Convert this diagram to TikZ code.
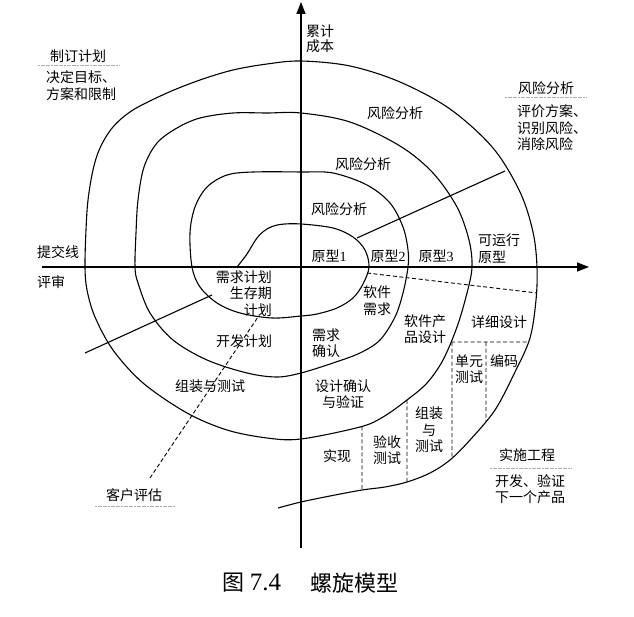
\documentclass[tikz,border=0pt]{standalone}
\usepackage{fontspec}
\setmainfont{Noto Sans CJK SC}
\newfontfamily\lat{Liberation Serif}
\usetikzlibrary{arrows.meta,intersections}
\newcommand\lblfont{\fontsize{14}{16.5}\selectfont}
\begin{document}
\begin{tikzpicture}[x=1pt,y=-1pt,
  curve/.style={line width=1.1pt, line join=round},
  axisline/.style={line width=1.5pt, -{Triangle[length=12pt,width=9pt]}},
  dashline/.style={line width=0.9pt, dash pattern=on 4pt off 2.5pt},
  sepline/.style={gray!65, line width=0.8pt, dash pattern=on 2pt off 0.6pt},
  lbl/.style={font=\lblfont, inner sep=0pt, align=center},
  lbll/.style={font=\lblfont, inner sep=0pt, align=left},
  lblr/.style={font=\lblfont, inner sep=0pt, align=right}]
\useasboundingbox (0,0) rectangle (634,617);

% axes
\coordinate (xa) at (42,267);
\coordinate (xb) at (589,267);
\coordinate (ya) at (301,548);
\coordinate (yb) at (301,2);
\draw[axisline] (xa) -- (xb);
\draw[axisline] (ya) -- (yb);

% spiral
\draw[curve, name path=spiral] plot[smooth, tension=0.55] coordinates {
 (237,267) (247,254) (257,238) (267,229) (280,224.5) (301,224)
 (333,228) (353,237) (365,250) (369,267)
 (363,284) (353,298) (337,308) (317,314) (301,316)
 (272,318) (240,313) (217,303) (200,287) (192,267)
 (190,233) (195,207) (207,187) (227,175) (253,172) (301,172)
 (333,173) (367,185) (390,203) (403,227) (408,250) (408,267)
 (403,293) (395,317) (380,340) (360,353) (333,363) (301,373)
 (277,377) (247,373) (207,360) (173,340) (150,313) (138,283) (135,267)
 (136,233) (138,200) (144,167) (157,143) (177,128) (200,118) (233,113) (267,113) (301,113)
 (350,122) (400,146) (433,173) (457,207) (469,240) (472,267)
 (467,293) (457,327) (443,360) (427,383) (407,400) (383,417) (360,427) (301,439)
 (267,438) (227,430) (187,413) (143,383) (113,350) (95,317) (87,290) (85,267)
 (86,230) (88,200) (93,170) (100,148) (113,127) (133,110) (167,93) (200,80) (233,70) (267,64) (301,61)
 (350,66) (400,82) (450,109) (493,148) (520,192) (533,232) (537,267)
 (536,300) (530,338) (515,372) (495,410) (470,440) (450,460) (430,473) (407,482) (385,487) (362,490) (330,496) (301,502) (278,508)
};

% radial lines
\coordinate (ra) at (357,238);
\coordinate (rb) at (505,171);
\draw[curve] (ra) -- (rb);
\coordinate (la) at (85,353);
\coordinate (lb) at (212,295);
\draw[curve] (la) -- (lb);
\coordinate (da) at (367,273);
\coordinate (db) at (537,293);
\draw[dashline] (da) -- (db);
\coordinate (ca) at (150,478);
\coordinate (cb) at (258,317);
\draw[dashline] (ca) -- (cb);

% dashed partitions in lower right
\path[name path=h1] (440,342) -- (570,342);
\path[name intersections={of=spiral and h1, sort by=h1}]
  coordinate (h1a) at (intersection-1) coordinate (h1b) at (intersection-2);
\draw[dashline] (h1a) -- (h1b);
\coordinate (v3t) at (452,342);
\coordinate (v4t) at (486,342);
\path[name path=v3] (452,350) -- (452,540);
\path[name intersections={of=spiral and v3}] coordinate (v3b) at (intersection-1);
\draw[dashline] (v3t) -- (v3b);
\path[name path=v4] (486,350) -- (486,540);
\path[name intersections={of=spiral and v4}] coordinate (v4b) at (intersection-1);
\draw[dashline] (v4t) -- (v4b);
\path[name path=v1] (362,380) -- (362,540);
\path[name intersections={of=spiral and v1, sort by=v1}]
  coordinate (v1a) at (intersection-1) coordinate (v1b) at (intersection-2);
\draw[dashline] (v1a) -- (v1b);
\path[name path=v2] (407,380) -- (407,540);
\path[name intersections={of=spiral and v2, sort by=v2}]
  coordinate (v2a) at (intersection-1) coordinate (v2b) at (intersection-2);
\draw[dashline] (v2a) -- (v2b);

% labels
\node[lbll, anchor=west, font=\fontsize{14}{15}\selectfont] (ylab) at (306,38.5) {累计\\成本};
\node[lbl] (plan) at (78,56) {制订计划};
\coordinate (pl1) at (38,65); \coordinate (pl2) at (120,65);
\draw[sepline] (pl1) -- (pl2);
\node[lbll, anchor=west] (plantxt) at (46,85.5) {决定目标、\\方案和限制};
\node[lbl] (risk) at (546,88) {风险分析};
\coordinate (rl1) at (505,97); \coordinate (rl2) at (587,97);
\draw[sepline] (rl1) -- (rl2);
\node[lbll, anchor=west] (risktxt) at (517,128) {评价方案、\\识别风险、\\消除风险};
\node[lbl] (r1) at (395,113) {风险分析};
\node[lbl] (r2) at (363,164) {风险分析};
\node[lbl] (r3) at (339,209) {风险分析};
\node[lbl] (p1) at (329,256) {原型{\lat 1}};
\node[lbl] (p2) at (388,256) {原型{\lat 2}};
\node[lbl] (p3) at (436,256) {原型{\lat 3}};
\node[lbll, anchor=west] (p4) at (478,248.5) {可运行\\原型};
\node[lbll, anchor=west] (tjx) at (37,252) {提交线};
\node[lbll, anchor=west] (ps) at (37,282) {评审};
\node[lblr, anchor=east] (xqjh) at (272,293.5) {需求计划\\生存期\\计划};
\node[lbl] (kfjh) at (244,341) {开发计划};
\node[lbl] (zzcs) at (210,386) {组装与测试};
\node[lbl] (rjxq) at (377,300.5) {软件\\需求};
\node[lbl] (xqqr) at (326,343) {需求\\确认};
\node[lbl] (rjcp) at (425,329) {软件产\\品设计};
\node[lbl] (xxsj) at (499,322) {详细设计};
\node[lbl] (dycs) at (469,369) {单元\\测试};
\node[lbl] (bm) at (504,361) {编码};
\node[lbl] (sjqr) at (343,394) {设计确认\\与验证};
\node[lbl] (zz) at (429,430) {组装\\与\\测试};
\node[lbl] (ys) at (387,450) {验收\\测试};
\node[lbl] (sx) at (337,456) {实现};
\node[lbl] (ssgc) at (527,455) {实施工程};
\coordinate (sl1) at (490,468); \coordinate (sl2) at (572,468);
\draw[sepline] (sl1) -- (sl2);
\node[lbl] (kfyz) at (530,489) {开发、验证\\下一个产品};
\node[lbl] (khpg) at (134,495) {客户评估};
\coordinate (kl1) at (95,506); \coordinate (kl2) at (175,506);
\draw[sepline] (kl1) -- (kl2);

% caption
\node[inner sep=0pt, font=\fontsize{22}{24}\selectfont] (cap1) at (252,583) {图 {\lat\fontsize{25}{26}\selectfont 7.4}};
\node[inner sep=0pt, font=\fontsize{22}{24}\selectfont] (cap2) at (354,583) {螺旋模型};
\end{tikzpicture}
\end{document}
